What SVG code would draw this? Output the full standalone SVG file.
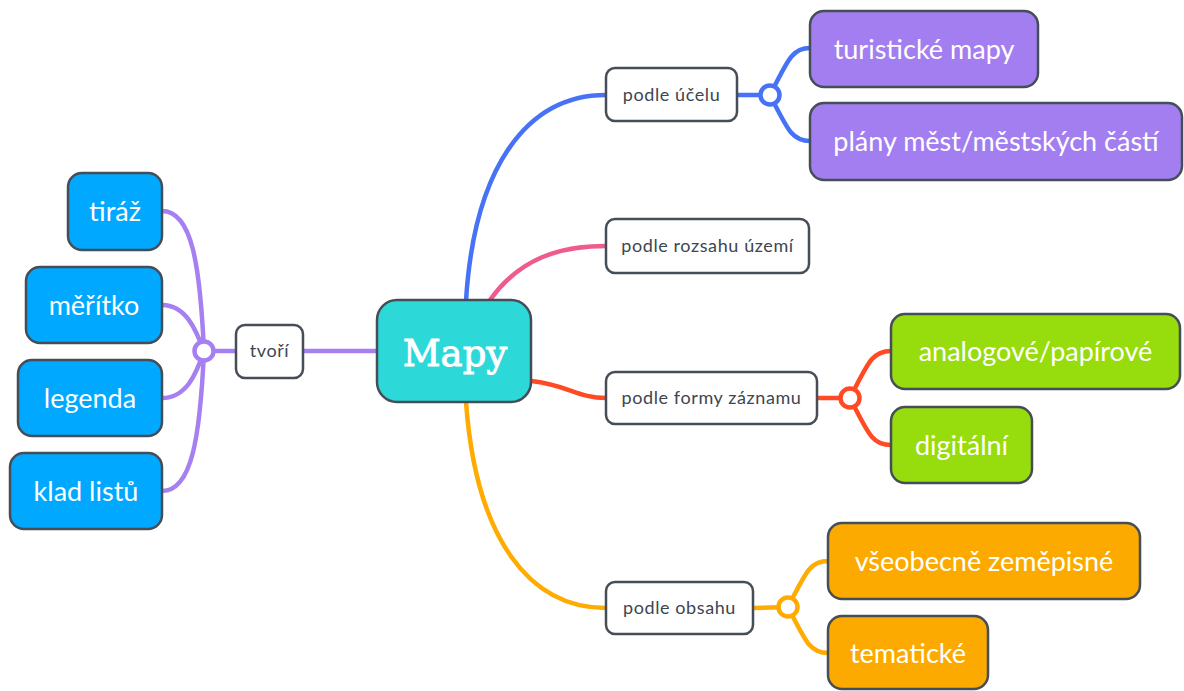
<svg xmlns="http://www.w3.org/2000/svg" width="1184" height="691" viewBox="0 0 1184 691">
<style>
.box{stroke:#454e57;stroke-width:2.5}
.w{fill:#ffffff}
.pu{fill:#a27ef0}
.bl{fill:#00a8ff}
.gr{fill:#97dc0c}
.or{fill:#fdaa00}
.big{font-family:Lato,"Noto Sans",sans-serif;font-size:27px;fill:#ffffff;text-anchor:middle}
.sm{font-family:Lato,"Noto Sans",sans-serif;font-size:18px;letter-spacing:0.6px;fill:#3c4650;text-anchor:middle}
.c{fill:none;stroke-width:4.5;stroke-linecap:round}
.j{fill:#ffffff;stroke-width:4.5}
</style>
<rect width="1184" height="691" fill="#ffffff"/>
<g id="connectors">
<path class="c" stroke="#4772f6" d="M466,301 C474,170 525,95 606,95"/>
<path class="c" stroke="#ef5a8f" d="M490,300 C520,258 560,246 606,246"/>
<path class="c" stroke="#ff4a24" d="M531,381 C568,385 578,398 606,398"/>
<path class="c" stroke="#ffab00" d="M466,402 C476,540 530,608 606,608"/>
<path class="c" stroke="#a680f0" d="M303,351 L377,351"/>
<path class="c" stroke="#a680f0" d="M204,351 L236,351"/>
<path class="c" stroke="#a680f0" d="M162,211 C192,211 200,265 204,351"/>
<path class="c" stroke="#a680f0" d="M162,305 C186,305 196,330 204,351"/>
<path class="c" stroke="#a680f0" d="M162,398 C186,398 196,375 204,351"/>
<path class="c" stroke="#a680f0" d="M162,491 C192,491 200,437 204,351"/>
<path class="c" stroke="#4772f6" d="M737,95 L770,95"/>
<path class="c" stroke="#4772f6" d="M770,95 C788,60 792,48 810,48"/>
<path class="c" stroke="#4772f6" d="M770,95 C788,130 792,141 810,141"/>
<path class="c" stroke="#ff4a24" d="M817,398 L850,398"/>
<path class="c" stroke="#ff4a24" d="M850,398 C868,363 872,351 891,351"/>
<path class="c" stroke="#ff4a24" d="M850,398 C868,433 872,445 891,445"/>
<path class="c" stroke="#ffab00" d="M753,608 L788,607"/>
<path class="c" stroke="#ffab00" d="M788,607 C806,572 810,561 828,561"/>
<path class="c" stroke="#ffab00" d="M788,607 C806,642 810,653 828,653"/>
<circle class="j" stroke="#a680f0" cx="204" cy="351" r="9.5"/>
<circle class="j" stroke="#4772f6" cx="770" cy="95" r="9.5"/>
<circle class="j" stroke="#ff4a24" cx="850" cy="398" r="9.5"/>
<circle class="j" stroke="#ffab00" cx="788" cy="607" r="9.5"/>
</g>
<g id="mapy">
<rect class="box" fill="#2dd8d8" x="377" y="300" width="154" height="102" rx="20"/>
<text x="455" y="366" font-family="'DejaVu Serif',serif" font-size="37" fill="#ffffff" stroke="#ffffff" stroke-width="0.9" text-anchor="middle">Mapy</text>
</g>
<g id="podle-ucelu">
<rect class="box w" x="606" y="68" width="131" height="53" rx="9"/>
<text class="sm" x="671.5" y="101">podle účelu</text>
</g>
<g id="podle-rozsahu">
<rect class="box w" x="606" y="219" width="203" height="54" rx="9"/>
<text class="sm" x="707.5" y="252">podle rozsahu území</text>
</g>
<g id="podle-formy">
<rect class="box w" x="606" y="372" width="211" height="52" rx="9"/>
<text class="sm" x="711.5" y="404">podle formy záznamu</text>
</g>
<g id="podle-obsahu">
<rect class="box w" x="606" y="582" width="147" height="52" rx="9"/>
<text class="sm" x="679.5" y="614">podle obsahu</text>
</g>
<g id="tvori">
<rect class="box w" x="236" y="325" width="67" height="53" rx="9"/>
<text class="sm" x="269.5" y="357">tvoří</text>
</g>
<g id="turisticke">
<rect class="box pu" x="810" y="11" width="228" height="76" rx="14"/>
<text class="big" x="924" y="59">turistické mapy</text>
</g>
<g id="plany">
<rect class="box pu" x="810" y="103" width="372" height="77" rx="14"/>
<text class="big" x="996" y="151">plány měst/městských částí</text>
</g>
<g id="analogove">
<rect class="box gr" x="891" y="314" width="289" height="75" rx="14"/>
<text class="big" x="1035.5" y="361">analogové/papírové</text>
</g>
<g id="digitalni">
<rect class="box gr" x="891" y="407" width="141" height="76" rx="14"/>
<text class="big" x="961.5" y="455">digitální</text>
</g>
<g id="vseobecne">
<rect class="box or" x="828" y="523" width="312" height="76" rx="14"/>
<text class="big" x="984" y="571">všeobecně zeměpisné</text>
</g>
<g id="tematicke">
<rect class="box or" x="828" y="616" width="160" height="73" rx="14"/>
<text class="big" x="908" y="663">tematické</text>
</g>
<g id="tiraz">
<rect class="box bl" x="68" y="173" width="94" height="77" rx="14"/>
<text class="big" x="115" y="221">tiráž</text>
</g>
<g id="meritko">
<rect class="box bl" x="26" y="267" width="136" height="76" rx="14"/>
<text class="big" x="94" y="315">měřítko</text>
</g>
<g id="legenda">
<rect class="box bl" x="18" y="360" width="144" height="76" rx="14"/>
<text class="big" x="90" y="408">legenda</text>
</g>
<g id="klad">
<rect class="box bl" x="10" y="453" width="152" height="76" rx="14"/>
<text class="big" x="86" y="501">klad listů</text>
</g>
</svg>
